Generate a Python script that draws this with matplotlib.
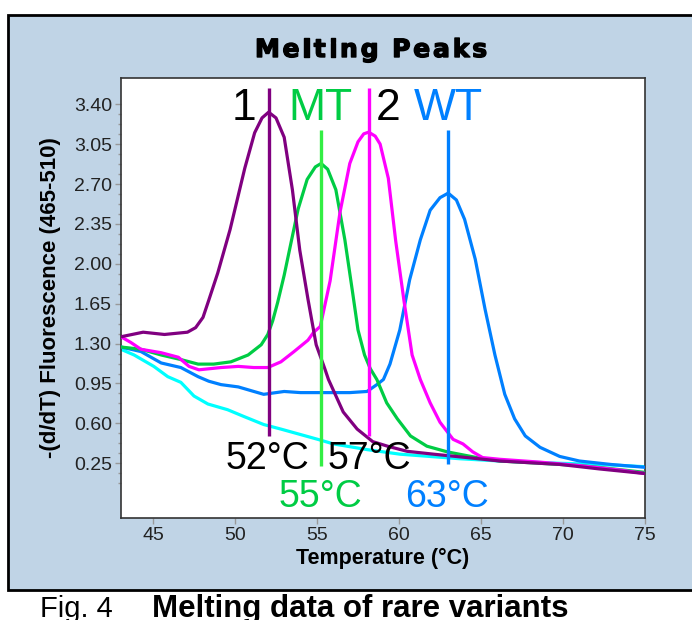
import matplotlib
matplotlib.use("Agg")
import matplotlib.pyplot as plt
import matplotlib.patheffects as pe
from matplotlib.patches import Rectangle
from matplotlib.ticker import FixedLocator, FormatStrFormatter
import numpy as np

# ---------------- data ----------------
title = "Melting Peaks"
xlabel = "Temperature (°C)"
ylabel = "-(d/dT) Fluorescence (465-510)"
caption_a = "Fig. 4"
caption_b = "Melting data of rare variants"

x_ticks = [45, 50, 55, 60, 65, 70, 75]
y_ticks = [0.25, 0.60, 0.95, 1.30, 1.65, 2.00, 2.35, 2.70, 3.05, 3.40]

# sample 1 (purple)
s1_temp = [43.05, 44.4, 45.7, 47.1, 47.6, 48.05, 48.4, 48.95, 49.7, 50.6, 51.2, 51.65, 52.05,
           52.5, 53.0, 53.5, 53.95, 54.45, 54.95, 55.5, 55.7, 56.6, 57.45, 58.4, 59.3, 60.5,
           62.1, 64.15, 66.15, 69.8, 72.25, 75.0]
s1_fluor = [1.36, 1.40, 1.38, 1.40, 1.44, 1.53, 1.68, 1.92, 2.30, 2.84, 3.15, 3.28, 3.33,
            3.28, 3.11, 2.65, 2.12, 1.69, 1.29, 1.07, 0.985, 0.70, 0.55, 0.44, 0.40, 0.355,
            0.33, 0.30, 0.27, 0.24, 0.20, 0.16]

# MT (green)
mt_temp = [43.05, 44.27, 45.5, 46.7, 47.75, 48.7, 49.75, 50.8, 51.6, 52.0, 52.3, 52.6, 53.0,
           53.35, 53.85, 54.4, 54.9, 55.25, 55.65, 56.15, 56.7, 57.15, 57.5, 57.9, 58.25, 58.65,
           59.25, 59.9, 60.7, 61.7, 62.95, 64.75, 66.15, 68.6, 71.0, 72.45, 75.0]
mt_fluor = [1.27, 1.25, 1.20, 1.16, 1.12, 1.12, 1.14, 1.20, 1.29, 1.38, 1.50, 1.66, 1.90,
            2.14, 2.48, 2.74, 2.85, 2.88, 2.83, 2.65, 2.21, 1.77, 1.42, 1.20, 1.08, 0.985,
            0.78, 0.64, 0.49, 0.40, 0.35, 0.30, 0.27, 0.25, 0.23, 0.21, 0.17]

# sample 2 (magenta)
s2_temp = [43.05, 43.65, 44.27, 45.5, 46.55, 47.2, 47.8, 49.15, 50.2, 51.15, 52.0, 52.8, 53.6,
           54.45, 54.8, 55.2, 55.8, 56.4, 57.0, 57.5, 57.85, 58.15, 58.55, 58.85, 59.35, 59.8,
           60.3, 60.8, 61.3, 61.9, 62.5, 63.3, 63.9, 64.5, 65.1, 66.15, 68.6, 71.0, 73.5, 75.0]
s2_fluor = [1.36, 1.31, 1.25, 1.22, 1.18, 1.10, 1.07, 1.09, 1.10, 1.09, 1.09, 1.14, 1.23,
            1.33, 1.40, 1.45, 1.85, 2.45, 2.88, 3.07, 3.14, 3.155, 3.12, 3.05, 2.75, 2.20,
            1.68, 1.20, 0.985, 0.78, 0.61, 0.46, 0.42, 0.35, 0.30, 0.285, 0.26, 0.23, 0.19, 0.16]

# WT (blue)
wt_temp = [43.05, 44.27, 45.5, 46.7, 47.75, 48.4, 49.15, 50.2, 51.15, 51.75, 53.0, 54.0, 55.25,
           57.0, 58.05, 58.65, 59.05, 59.45, 60.05, 60.65, 61.3, 61.9, 62.5, 63.0, 63.5, 64.0,
           64.65, 65.25, 65.85, 66.45, 67.05, 67.7, 68.6, 69.8, 71.0, 72.9, 75.0]
wt_fluor = [1.27, 1.23, 1.13, 1.09, 1.01, 0.97, 0.94, 0.92, 0.88, 0.855, 0.88, 0.87, 0.87,
            0.87, 0.88, 0.94, 0.985, 1.12, 1.42, 1.86, 2.21, 2.47, 2.58, 2.62, 2.56, 2.39,
            2.04, 1.60, 1.20, 0.855, 0.64, 0.49, 0.39, 0.31, 0.27, 0.24, 0.215]

# negative control (cyan)
nc_temp = [43.05, 43.85, 45.05, 45.9, 46.7, 47.5, 48.35, 49.55, 50.55, 51.75, 52.8, 54.05,
           55.05, 56.0, 58.05, 60.05, 63.7, 66.15, 69.8, 72.25, 75.0]
nc_fluor = [1.25, 1.20, 1.10, 1.01, 0.96, 0.84, 0.77, 0.72, 0.66, 0.59, 0.55, 0.50,
            0.46, 0.42, 0.37, 0.33, 0.29, 0.27, 0.25, 0.24, 0.22]

# peak markers: label, Tm line position, line bottom, line top
peak_names = ["1", "MT", "2", "WT"]
peak_label_x = [50.55, 55.18, 59.33, 62.99]
peak_tm = [52.05, 55.25, 58.2, 63.0]
peak_line_lo = [0.49, 0.23, 0.49, 0.24]
peak_line_hi = [3.54, 3.17, 3.54, 3.17]
tm_texts = ["52°C", "55°C", "57°C", "63°C"]
tm_text_x = [52.0, 55.18, 58.17, 62.9]
tm_text_y = [0.198, -0.135, 0.198, -0.135]

# ---------------- style ----------------
W, H = 692, 620
DPI = 100
PURPLE = "#800080"
GREEN = "#00CC44"
GREEN_LINE = "#33EE44"
MAGENTA = "#FF00FF"
BLUE = "#0080FF"
CYAN = "#00FFFF"
PANEL = "#C0D4E6"
SANS = ["Liberation Sans", "DejaVu Sans"]

fig = plt.figure(figsize=(W / DPI, H / DPI), dpi=DPI)
fig.patch.set_facecolor("white")

def fx(px):
    return px / W

def fy(py):
    return (H - py) / H

# panel background with border
panel = Rectangle((fx(8), fy(590)), 1.05, fy(15) - fy(590), transform=fig.transFigure,
                  facecolor=PANEL, edgecolor="black", linewidth=2.0, zorder=-10)
fig.patches.append(panel)

ax = fig.add_axes([fx(121), fy(518), fx(645) - fx(121), fy(78) - fy(518)])
ax.set_zorder(5)
ax.set_facecolor("white")
ax.set_xlim(43.05, 75)
ax.set_ylim(-0.23, 3.63)

lw = 2.3
ax.plot(nc_temp, nc_fluor, color=CYAN, lw=lw, zorder=2)
ax.plot(wt_temp, wt_fluor, color=BLUE, lw=lw, zorder=3)
ax.plot(mt_temp, mt_fluor, color=GREEN, lw=lw, zorder=4)
ax.plot(s2_temp, s2_fluor, color=MAGENTA, lw=lw, zorder=5)
ax.plot(s1_temp, s1_fluor, color=PURPLE, lw=lw, zorder=6)

line_colors = [PURPLE, GREEN_LINE, MAGENTA, BLUE]
label_colors = ["black", GREEN, "black", BLUE]
for i in range(4):
    ax.vlines(peak_tm[i], peak_line_lo[i], peak_line_hi[i], color=line_colors[i], lw=2.4, zorder=7)
    ax.text(peak_label_x[i], 3.26, peak_names[i], color=label_colors[i], fontsize=32,
            family=SANS, ha="center", va="baseline", zorder=8)

tm_colors = ["black", GREEN, "black", BLUE]
for i in range(4):
    ax.text(tm_text_x[i], tm_text_y[i], tm_texts[i], color=tm_colors[i], fontsize=27,
            family=SANS, ha="center", va="baseline", zorder=8, clip_on=False)

ax.set_xticks(x_ticks)
ax.set_yticks(y_ticks)
ax.yaxis.set_major_formatter(FormatStrFormatter("%.2f"))
ax.yaxis.set_minor_locator(FixedLocator(np.arange(0.075, 3.40, 0.0875)))
ax.tick_params(axis="both", which="major", direction="out", length=4.5, width=1,
               color="#999999", labelsize=14, labelcolor="#222222", pad=2)
ax.tick_params(axis="y", which="minor", direction="out", length=2.5, width=1, color="#999999")
for lab in ax.get_xticklabels() + ax.get_yticklabels():
    lab.set_family(SANS)
for sp in ax.spines.values():
    sp.set_color("#333333")
    sp.set_linewidth(1.2)

# axis labels
fig.text(fx(383), fy(564), xlabel, fontsize=15.5, fontweight="bold", family=SANS,
         ha="center", va="baseline")
fig.text(fx(51), fy(298), ylabel, fontsize=16, fontweight="bold", family=SANS,
         rotation=90, ha="center", va="center")

# letter-spaced title
fig.canvas.draw()
renderer = fig.canvas.get_renderer()
t_kw = dict(fontsize=18, fontweight="bold", family=["DejaVu Sans"], va="baseline")
widths = []
for ch in title:
    if ch == " ":
        widths.append(None)
        continue
    t = fig.text(0, 0, ch, **t_kw)
    widths.append(t.get_window_extent(renderer).width)
    t.remove()
space_w = 8.0
left_px, right_px = 255.0, 487.0
ink = sum(w for w in widths if w is not None) + space_w
gap = (right_px - left_px - ink) / (len(title) - 1)
cur = left_px
stroke = [pe.withStroke(linewidth=1.0, foreground="black")]
for ch, w in zip(title, widths):
    if w is None:
        cur += space_w + gap
        continue
    fig.text(fx(cur), fy(57), ch, ha="left", path_effects=stroke, **t_kw)
    cur += w + gap

# caption
fig.text(fx(40), fy(617), caption_a, fontsize=21, family=SANS, ha="left", va="baseline")
fig.text(fx(152), fy(617), caption_b, fontsize=22.5, fontweight="bold", family=SANS,
         ha="left", va="baseline")

fig.savefig("out.png", dpi=DPI, facecolor="white")
